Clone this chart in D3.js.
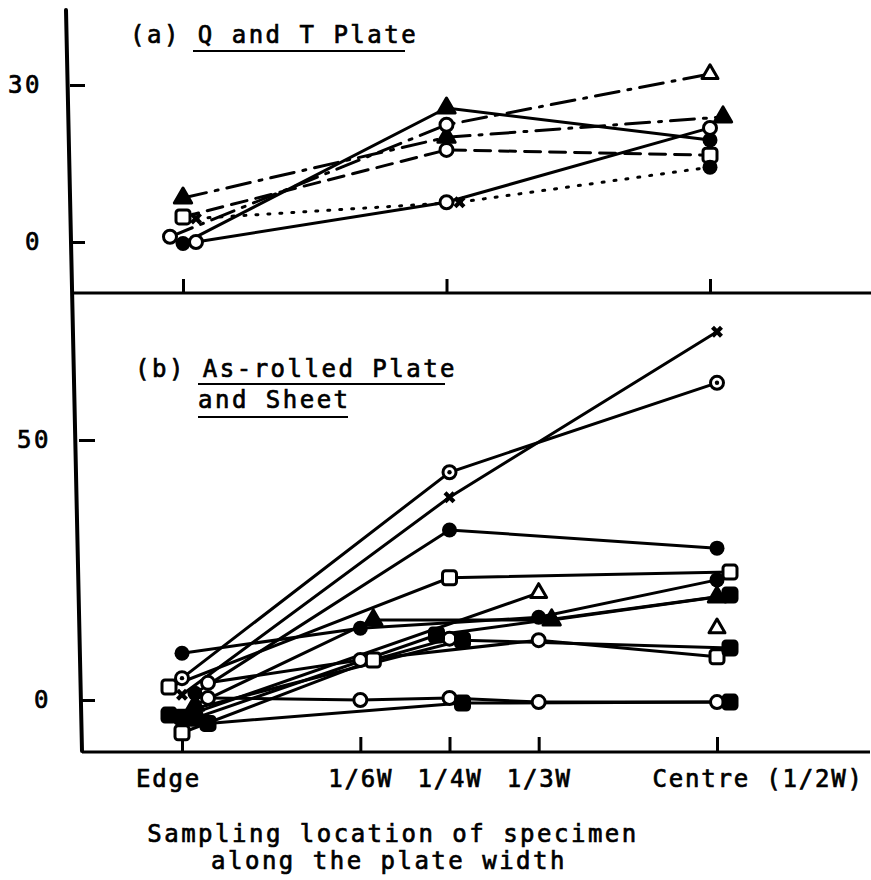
<!DOCTYPE html>
<html>
<head>
<meta charset="utf-8">
<script src="https://cdn.jsdelivr.net/npm/d3@7"></script>
<style>
body { margin: 0; background: #fff; }
text { font-family: "DejaVu Sans Mono", monospace; font-size: 24px; letter-spacing: 2.5px; fill: #000; stroke: #000; stroke-width: 0.7px; }
</style>
</head>
<body>
<svg width="871" height="880"></svg>
<script>
'use strict';

// sampling locations, as fraction of plate width
var locations = ['Edge', '1/6W', '1/4W', '1/3W', 'Centre (1/2W)'];
var locFraction = [0, 1 / 6, 1 / 4, 1 / 3, 1 / 2];

// (a) Q and T plate   [Edge, 1/6W, 1/4W, 1/3W, Centre]
var qtA = [-0.3, null, 25.6, null, 19.5];
var qtB = [0.0, null, 7.6, null, 21.8];
var qtC = [8.4, null, 20.0, null, 23.9];
var qtD = [1.0, null, 22.4, null, 32.1];
var qtE = [4.8, null, 17.6, null, 16.6];
var qtF = [4.5, null, 7.6, null, 14.3];

// marker codes: o open circle, f filled circle, c circle with dot,
// s open square, S filled square, T open triangle, t filled triangle, x cross
var qtMarks = [
    ['f', null, 't', null, 'f'],
    ['o', null, 'o', null, 'o'],
    ['t', null, 't', null, 't'],
    ['o', null, 'o', null, 'T'],
    ['s', null, 'o', null, 's'],
    ['x', null, 'x', null, 'f']
];
var qtDash = ['solid', 'solid', 'dashdot', 'dashdot', 'dashed', 'dotted'];

// (b) as-rolled plate and sheet
var arA = [1.0, null, 39.0, null, 70.8];
var arB = [4.2, null, 43.8, null, 61.0];
var arC = [1.3, null, 32.7, null, 29.2];
var arE = [9.0, 13.8, null, 15.9, 23.1];
var arD = [2.5, null, 23.5, null, 24.6];
var arF = [-1.0, 15.4, null, 15.4, 19.8];
var arG = [-3.3, null, null, 20.6, null];
var arH = [null, null, null, null, 13.8];
var arI = [3.3, 7.7, null, 11.5, 8.3];
var arJ = [-6.3, 7.7, 11.8, null, null];
var arK = [-2.9, null, 11.5, null, 10.0];
var arL = [-3.5, null, 12.5, null, 20.2];
var arM = [0.4, 0.0, 0.4, -0.4, -0.4];
var arN = [-4.5, null, -0.6, null, -0.4];

var arMarks = [
    ['x', null, 'x', null, 'x'],
    ['c', null, 'c', null, 'c'],
    ['f', null, 'f', null, 'f'],
    ['f', 'f', null, 'f', 'f'],
    ['s', null, 's', null, 's'],
    ['t', 't', null, 't', 't'],
    ['S', null, null, 'T', null],
    [null, null, null, null, 'T'],
    ['o', 'o', null, 'o', 's'],
    ['s', 's', 'o', null, null],
    ['S', null, 'S', null, 'S'],
    ['S', null, 'S', null, 'S'],
    ['o', 'o', 'o', 'o', 'o'],
    ['S', null, 'S', null, 'S']
];

var yTopTicks = [0, 30];
var yBotTicks = [0, 50];

var svg = d3.select('svg');

var xTop = d3.scaleLinear().domain([0, 0.5]).range([183, 710]);
var yTop = d3.scaleLinear().domain([0, 30]).range([242, 85]);
var xBot = d3.scaleLinear().domain([0, 0.5]).range([182, 717]);
var yBot = d3.scaleLinear().domain([0, 50]).range([700, 440]);

var dashes = { solid: null, dashed: '16,9', dashdot: '24,9,3,9', dotted: '2,10' };

function drawMarker(g, code, px, py) {
    var big = 7.5;
    if (code === 'o' || code === 'c') {
        g.append('circle').attr('cx', px).attr('cy', py).attr('r', big - 1)
            .attr('fill', '#fff').attr('stroke', '#000').attr('stroke-width', 3);
        if (code === 'c') g.append('circle').attr('cx', px).attr('cy', py).attr('r', 2.2).attr('fill', '#000');
    } else if (code === 'f') {
        g.append('circle').attr('cx', px).attr('cy', py).attr('r', big).attr('fill', '#000');
    } else if (code === 's' || code === 'S') {
        g.append('rect').attr('x', px - 7).attr('y', py - 7).attr('width', 14).attr('height', 14)
            .attr('rx', 3).attr('fill', code === 'S' ? '#000' : '#fff')
            .attr('stroke', '#000').attr('stroke-width', 3);
    } else if (code === 't' || code === 'T') {
        g.append('path').attr('d', d3.symbol().type(d3.symbolTriangle).size(code === 't' ? 130 : 110)())
            .attr('transform', 'translate(' + px + ',' + py + ')')
            .attr('fill', code === 't' ? '#000' : '#fff')
            .attr('stroke', '#000').attr('stroke-width', 3).attr('stroke-linejoin', 'round');
    } else if (code === 'x') {
        g.append('path').attr('d', d3.symbol().type(d3.symbolCross).size(90)())
            .attr('transform', 'translate(' + px + ',' + py + ') rotate(45)')
            .attr('fill', '#000');
    }
}

function drawPanel(values, marks, styles, x, y) {
    var g = svg.append('g');
    var placed = [];
    var offsets = [0, 13, -13, 26, -26, 39, -39];

    // place markers, nudging sideways where they would sit on top of one another
    var pts = values.map(function(vals, si) {
        return vals.map(function(v, i) {
            if (v === null) return null;
            var px = x(locFraction[i]), py = y(v);
            var off = offsets.find(function(o) {
                return placed.every(function(p) { return Math.hypot(p[0] - px - o, p[1] - py) > 11; });
            });
            var pt = [px + (off === undefined ? 0 : off), py, marks[si][i]];
            placed.push(pt);
            return pt;
        }).filter(Boolean);
    });

    var line = d3.line();
    pts.forEach(function(p, si) {
        if (p.length < 2) return;
        var st = styles ? styles[si] : 'solid';
        g.append('path')
            .attr('d', line(p.map(function(d) { return [d[0], d[1]]; })))
            .attr('fill', 'none').attr('stroke', '#000').attr('stroke-width', 3)
            .attr('stroke-linecap', 'round')
            .attr('stroke-dasharray', dashes[st]);
    });
    pts.forEach(function(p) {
        p.forEach(function(d) { if (d[2]) drawMarker(g, d[2], d[0], d[1]); });
    });
}

// frame: tilted left spine from the scan, divider and base line
svg.append('line').attr('x1', 66).attr('y1', 10).attr('x2', 82).attr('y2', 751)
    .attr('stroke', '#000').attr('stroke-width', 4).attr('stroke-linecap', 'round');
svg.append('line').attr('x1', 72).attr('y1', 293).attr('x2', 871).attr('y2', 293)
    .attr('stroke', '#000').attr('stroke-width', 3);
svg.append('line').attr('x1', 82).attr('y1', 752).attr('x2', 870).attr('y2', 752)
    .attr('stroke', '#000').attr('stroke-width', 3);

// y axes
var axTop = svg.append('g').attr('transform', 'translate(70,0)')
    .call(d3.axisLeft(yTop).tickValues(yTopTicks).tickSize(-15).tickPadding(28));
var axBot = svg.append('g').attr('transform', 'translate(79,0)')
    .call(d3.axisLeft(yBot).tickValues(yBotTicks).tickSize(-16).tickPadding(28));

// x axes
var axXTop = svg.append('g').attr('transform', 'translate(0,293)')
    .call(d3.axisBottom(xTop).tickValues([0, 0.25, 0.5]).tickSize(-14).tickFormat(''));
var axXBot = svg.append('g').attr('transform', 'translate(0,752)')
    .call(d3.axisBottom(xBot).tickValues(locFraction).tickSize(-15).tickPadding(18)
        .tickFormat(function(d, i) { return locations[i]; }));

[axTop, axBot, axXTop, axXBot].forEach(function(a) {
    a.select('.domain').remove();
    a.selectAll('.tick line').attr('stroke', '#000').attr('stroke-width', 3);
    a.selectAll('text').attr('font-family', null).attr('font-size', null).attr('fill', '#000');
});
axXBot.selectAll('.tick text').style('letter-spacing', '1.8px').each(function(d, i) {
    if (i === 0) d3.select(this).attr('dx', -14);
    if (i === locations.length - 1) d3.select(this).attr('text-anchor', 'start').attr('dx', -65);
});

drawPanel([qtA, qtB, qtC, qtD, qtE, qtF], qtMarks, qtDash, xTop, yTop);
drawPanel([arA, arB, arC, arE, arD, arF, arG, arH, arI, arJ, arK, arL, arM, arN], arMarks, null, xBot, yBot);

// panel captions
svg.append('text').attr('x', 130).attr('y', 43).text('(a) Q and T Plate');
svg.append('line').attr('x1', 193).attr('y1', 51).attr('x2', 405).attr('y2', 51)
    .attr('stroke', '#000').attr('stroke-width', 2);
svg.append('text').attr('x', 135).attr('y', 377).text('(b) As-rolled Plate');
svg.append('line').attr('x1', 198).attr('y1', 384).attr('x2', 445).attr('y2', 384)
    .attr('stroke', '#000').attr('stroke-width', 2);
svg.append('text').attr('x', 198).attr('y', 408).text('and Sheet');
svg.append('line').attr('x1', 198).attr('y1', 417).attr('x2', 348).attr('y2', 417)
    .attr('stroke', '#000').attr('stroke-width', 2);

// axis title
svg.append('text').attr('x', 393).attr('y', 842).attr('text-anchor', 'middle')
    .text('Sampling location of specimen');
svg.append('text').attr('x', 389).attr('y', 869).attr('text-anchor', 'middle')
    .text('along the plate width');
</script>
</body>
</html>
